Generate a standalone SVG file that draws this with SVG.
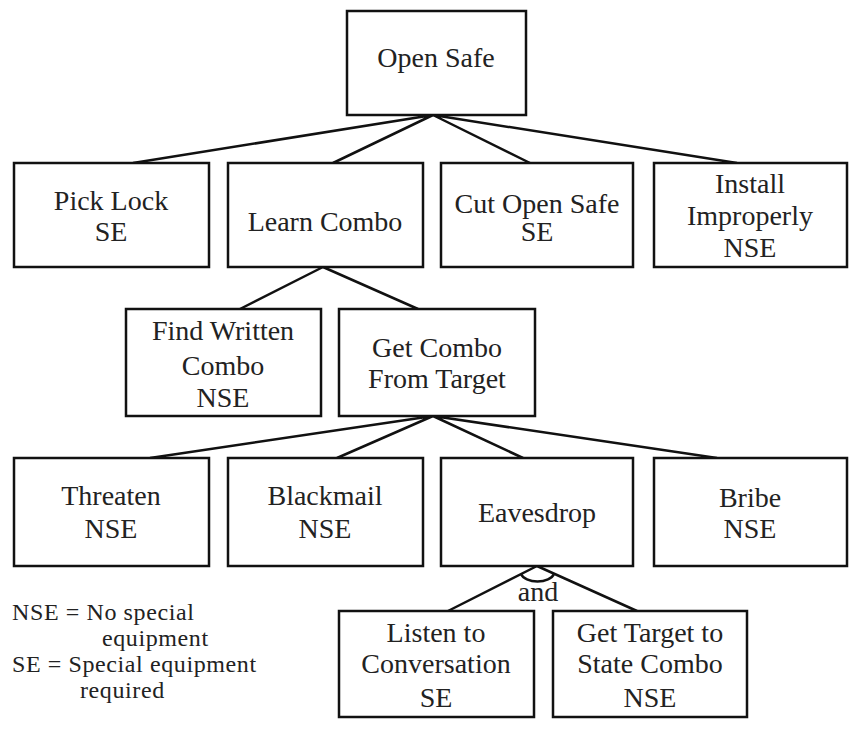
<svg xmlns="http://www.w3.org/2000/svg" width="849" height="729" viewBox="0 0 849 729">
<style>
.box{fill:#fff;stroke:#111;stroke-width:2.5}
.ln{stroke:#111;stroke-width:2.5;fill:none}
text{font-family:"Liberation Serif","Times New Roman",serif;font-size:28px;fill:#222}
.c{text-anchor:middle}
.lg{font-size:24px;letter-spacing:0.6px}
</style>
<rect width="849" height="729" fill="#fff"/>
<g id="connectors">
<path class="ln" d="M433 115L133 163M433 115L333 163M433 115L530 163M433 115L737 163"/>
<path class="ln" d="M323 267L240 309M323 267L418 309"/>
<path class="ln" d="M433 416L150 458M433 416L337 458M433 416L523 458M433 416L717 458"/>
<path class="ln" d="M537 566L448 611M537 566L637 611"/>
<path class="ln" d="M521 574A17 10 0 0 0 554 574"/>
<text class="c" x="538" y="601">and</text>
</g>
<g id="open-safe"><rect class="box" x="347" y="11" width="179" height="104"/><text class="c" x="436" y="67">Open Safe</text></g>
<g id="pick-lock"><rect class="box" x="14" y="163" width="195" height="104"/><text class="c" x="111" y="210">Pick Lock</text><text class="c" x="111" y="241">SE</text></g>
<g id="learn-combo"><rect class="box" x="228" y="163" width="195" height="104"/><text class="c" x="325" y="231">Learn Combo</text></g>
<g id="cut-open-safe"><rect class="box" x="441" y="163" width="192" height="104"/><text class="c" x="537" y="213">Cut Open Safe</text><text class="c" x="537" y="241">SE</text></g>
<g id="install-improperly"><rect class="box" x="654" y="163" width="193" height="104"/><text class="c" x="750" y="193">Install</text><text class="c" x="750" y="225">Improperly</text><text class="c" x="750" y="257">NSE</text></g>
<g id="find-written-combo"><rect class="box" x="126" y="309" width="195" height="107"/><text class="c" x="223" y="340">Find Written</text><text class="c" x="223" y="375">Combo</text><text class="c" x="223" y="407">NSE</text></g>
<g id="get-combo-from-target"><rect class="box" x="339" y="309" width="196" height="107"/><text class="c" x="437" y="357">Get Combo</text><text class="c" x="437" y="388">From Target</text></g>
<g id="threaten"><rect class="box" x="14" y="458" width="195" height="108"/><text class="c" x="111" y="505">Threaten</text><text class="c" x="111" y="538">NSE</text></g>
<g id="blackmail"><rect class="box" x="228" y="458" width="195" height="108"/><text class="c" x="325" y="505">Blackmail</text><text class="c" x="325" y="538">NSE</text></g>
<g id="eavesdrop"><rect class="box" x="441" y="458" width="192" height="108"/><text class="c" x="537" y="522">Eavesdrop</text></g>
<g id="bribe"><rect class="box" x="654" y="458" width="193" height="108"/><text class="c" x="750" y="507">Bribe</text><text class="c" x="750" y="538">NSE</text></g>
<g id="listen-to-conversation"><rect class="box" x="339" y="611" width="195" height="106"/><text class="c" x="436" y="642">Listen to</text><text class="c" x="436" y="673">Conversation</text><text class="c" x="436" y="707">SE</text></g>
<g id="get-target-to-state-combo"><rect class="box" x="553" y="611" width="194" height="106"/><text class="c" x="650" y="642">Get Target to</text><text class="c" x="650" y="673">State Combo</text><text class="c" x="650" y="707">NSE</text></g>
<g id="legend">
<text class="lg" x="12" y="620">NSE = No special</text>
<text class="lg" x="102" y="646">equipment</text>
<text class="lg" x="12" y="672">SE = Special equipment</text>
<text class="lg" x="80" y="698">required</text>
</g>
</svg>
